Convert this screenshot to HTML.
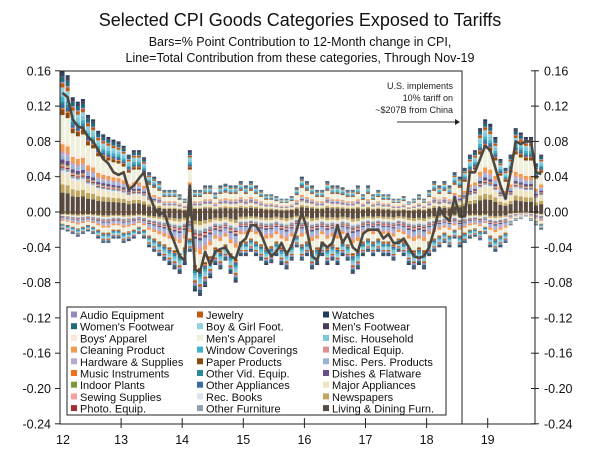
<!DOCTYPE html>
<html><head><meta charset="utf-8"><style>
body{margin:0;background:#fff;}
svg text{font-family:"Liberation Sans","DejaVu Sans",sans-serif;}
</style></head><body>
<svg id="c" width="600" height="456" viewBox="0 0 600 456" xmlns="http://www.w3.org/2000/svg">
<text x="300" y="26" text-anchor="middle" font-size="18" fill="#111">Selected CPI Goods Categories Exposed to Tariffs</text>
<text x="300" y="46" text-anchor="middle" font-size="12.5" fill="#111">Bars=% Point Contribution to 12-Month change in CPI,</text>
<text x="300" y="62" text-anchor="middle" font-size="12.5" fill="#111">Line=Total Contribution from these categories, Through Nov-19</text>
<g id="bars"></g>
<g id="axes"></g>
</svg>
<script>
const catNames=["Living & Dining Furn.","Newspapers","Major Appliances","Rec. Books","Other Furniture","Photo. Equip.","Sewing Supplies","Indoor Plants","Dishes & Flatware","Misc. Pers. Products","Hardware & Supplies","Medical Equip.","Cleaning Product","Boys' Apparel","Men's Apparel","Paper Products","Music Instruments","Other Appliances","Other Vid. Equip.","Window Coverings","Misc. Household","Boy & Girl Foot.","Jewelry","Audio Equipment","Women's Footwear","Men's Footwear","Watches"];
const catColors=["#5a4b40","#bfa560","#f0e3c0","#dde4ee","#8fa0ad","#9e3030","#f4a0a0","#7a9a3a","#6a4c8c","#9ab4d8","#b8a8cc","#d89090","#f29a50","#fbe6d8","#eef0dc","#8a4a10","#f07020","#3a6aa0","#2a8a9a","#40b0cc","#7cc8d8","#90d0e0","#c05a10","#9a88c0","#1f6a7a","#4a3a5a","#1f3a5a"];
const posShare=[14,6,8,2,2,1,1,1,3,3,2,1,5,3,18,4,1,3,2,3,4,3,3,1,4,2,2];
const negShare=[12,5,4,3,5,2,2,1,3,6,4,2,6,4,14,3,2,3,3,3,4,3,3,4,4,2,2];
const months=95;
const lineVals=[0.135,0.13,0.105,0.097,0.095,0.085,0.08,0.07,0.06,0.055,0.045,0.042,0.045,0.025,0.03,0.038,0.045,0.02,0.005,-0.003,0,-0.02,-0.035,-0.05,-0.055,0.03,-0.065,-0.068,-0.045,-0.06,-0.045,-0.042,-0.04,-0.05,-0.053,-0.035,-0.03,-0.015,-0.015,-0.025,-0.04,-0.05,-0.045,-0.035,-0.048,-0.038,-0.02,0,-0.02,-0.05,-0.055,-0.035,-0.04,-0.035,-0.015,-0.035,-0.025,-0.04,-0.045,-0.025,-0.02,-0.02,-0.02,-0.03,-0.025,-0.035,-0.035,-0.03,-0.04,-0.05,-0.052,-0.05,-0.04,-0.02,0.005,-0.005,-0.01,0.017,-0.005,-0.005,0.045,0.045,0.06,0.075,0.07,0.05,0.03,0.015,0.045,0.08,0.077,0.08,0.08,0.045,0.043];
const posTop=[0.16,0.155,0.13,0.125,0.128,0.11,0.105,0.092,0.088,0.085,0.082,0.08,0.075,0.065,0.07,0.07,0.062,0.045,0.04,0.035,0.025,0.025,0.025,0.02,0.015,0.07,0.025,0.025,0.03,0.03,0.022,0.03,0.032,0.03,0.03,0.035,0.03,0.035,0.03,0.025,0.02,0.02,0.018,0.015,0.015,0.018,0.028,0.04,0.035,0.03,0.025,0.025,0.035,0.03,0.03,0.028,0.025,0.025,0.03,0.02,0.03,0.02,0.025,0.02,0.02,0.015,0.015,0.018,0.012,0.015,0.02,0.015,0.025,0.035,0.03,0.035,0.03,0.045,0.04,0.05,0.065,0.07,0.095,0.105,0.1,0.085,0.06,0.05,0.065,0.095,0.09,0.085,0.085,0.055,0.065];
const negBot=[-0.02,-0.022,-0.025,-0.028,-0.025,-0.022,-0.025,-0.03,-0.035,-0.035,-0.03,-0.03,-0.035,-0.033,-0.03,-0.025,-0.03,-0.04,-0.045,-0.05,-0.055,-0.06,-0.065,-0.07,-0.06,-0.045,-0.09,-0.095,-0.085,-0.075,-0.06,-0.065,-0.055,-0.07,-0.08,-0.05,-0.05,-0.045,-0.05,-0.055,-0.06,-0.058,-0.05,-0.06,-0.065,-0.055,-0.04,-0.055,-0.05,-0.065,-0.06,-0.05,-0.06,-0.055,-0.06,-0.05,-0.055,-0.07,-0.065,-0.05,-0.045,-0.05,-0.045,-0.05,-0.05,-0.055,-0.045,-0.05,-0.06,-0.065,-0.06,-0.065,-0.05,-0.045,-0.04,-0.035,-0.04,-0.03,-0.04,-0.035,-0.03,-0.028,-0.032,-0.025,-0.04,-0.045,-0.04,-0.035,-0.015,-0.01,-0.008,-0.005,-0.01,-0.015,-0.02];
const yTicks=[0.16,0.12,0.08,0.04,0.00,-0.04,-0.08,-0.12,-0.16,-0.20,-0.24];
const xLabels=["12","13","14","15","16","17","18","19"];
const legendCols=[["Audio Equipment","Women's Footwear","Boys' Apparel","Cleaning Product","Hardware & Supplies","Music Instruments","Indoor Plants","Sewing Supplies","Photo. Equip."],["Jewelry","Boy & Girl Foot.","Men's Apparel","Window Coverings","Paper Products","Other Vid. Equip.","Other Appliances","Rec. Books","Other Furniture"],["Watches","Men's Footwear","Misc. Household","Medical Equip.","Misc. Pers. Products","Dishes & Flatware","Major Appliances","Newspapers","Living & Dining Furn."]];

const NS="http://www.w3.org/2000/svg";
const X0=60,X1=535,YT=71,YB=424;
const yS=v=>212-v*882.5;
const mW=61.1/12;
const xS=m=>X0+(m+0.5)*mW;
function mk(tag,attrs,parent){const e=document.createElementNS(NS,tag);for(const k in attrs)e.setAttribute(k,attrs[k]);parent.appendChild(e);return e;}
const svg=document.getElementById('c');
const bars=document.getElementById('bars');
const ax=document.getElementById('axes');
const pSum=posShare.reduce((a,b)=>a+b,0),nSum=negShare.reduce((a,b)=>a+b,0);
for(let m=0;m<months;m++){
  let acc=0;
  for(let c=0;c<catNames.length;c++){
    const v=posTop[m]*posShare[c]/pSum;
    const r=mk('rect',{x:xS(m)-2,width:4,y:yS(acc+v),height:Math.max(0,yS(acc)-yS(acc+v)),fill:catColors[c]},bars);
    
    
    acc+=v;
  }
  acc=0;
  for(let c=0;c<catNames.length;c++){
    const v=negBot[m]*negShare[c]/nSum;
    const r=mk('rect',{x:xS(m)-2,width:4,y:yS(acc),height:Math.max(0,yS(acc+v)-yS(acc)),fill:catColors[c]},bars);
    
    
    acc+=v;
  }
}
// zero line
let z=mk('line',{x1:X0,x2:X1,y1:yS(0),y2:yS(0),stroke:'#6b4a2a','stroke-width':1},ax);

// total line
const pts=lineVals.map((v,i)=>xS(i)+','+yS(v)).join(' ');
let pl=mk('polyline',{points:pts,fill:'none',stroke:'#4e4840','stroke-width':2.6,'stroke-linejoin':'round'},ax);

// frame
let f=mk('path',{d:`M${X0},${YT}H462V${YB}M${X0},${YT}V${YB}H${X1}V${YT}`,fill:'none',stroke:'#222','stroke-width':1},ax);

yTicks.forEach(v=>{
  const y=yS(v);
  mk('line',{x1:X0-5,x2:X0,y1:y,y2:y,stroke:'#222'},ax);
  mk('line',{x1:X1-4,x2:X1+4,y1:y,y2:y,stroke:'#222'},ax);
  const l=mk('text',{x:X0-9,y:y+4.5,'text-anchor':'end','font-size':12.5,fill:'#111'},ax);l.textContent=v.toFixed(2);
  
  const r=mk('text',{x:X1+9,y:y+4.5,'font-size':12.5,fill:'#111'},ax);r.textContent=v.toFixed(2);
  
});
xLabels.forEach((s,i)=>{
  const x=X0+i*61.1;
  if(i>0)mk('line',{x1:x,x2:x,y1:YB-6,y2:YB+4,stroke:'#222'},ax);
  const t=mk('text',{x:x+(i==0?3:0),y:YB+20,'text-anchor':'middle','font-size':12.5,fill:'#111'},ax);t.textContent=s;
  
});
// annotation
[["U.S. implements",89],["10% tariff on",101],["~$207B from China",113]].forEach(a=>{
  const t=mk('text',{x:453,y:a[1],'text-anchor':'end','font-size':9,fill:'#222'},ax);t.textContent=a[0];
  
});
mk('line',{x1:397,x2:455,y1:122,y2:122,stroke:'#333'},ax);
mk('path',{d:'M455,119L460,122L455,125Z',fill:'#222'},ax);
// legend
const lg=mk('g',{},svg);

mk('rect',{x:67,y:307,width:379,height:108,fill:'#fff',stroke:'#222'},lg);
const colX=[71,197,323];
legendCols.forEach((col,ci)=>col.forEach((name,ri)=>{
  const y=315+ri*11.7;
  const c=catColors[catNames.indexOf(name)];
  mk('rect',{x:colX[ci],y:y-3.5,width:6,height:6,fill:c},lg);
  const t=mk('text',{x:colX[ci]+9,y:y+4,'font-size':11,fill:'#111'},lg);t.textContent=name;
  
}));
</script>
</body></html>
